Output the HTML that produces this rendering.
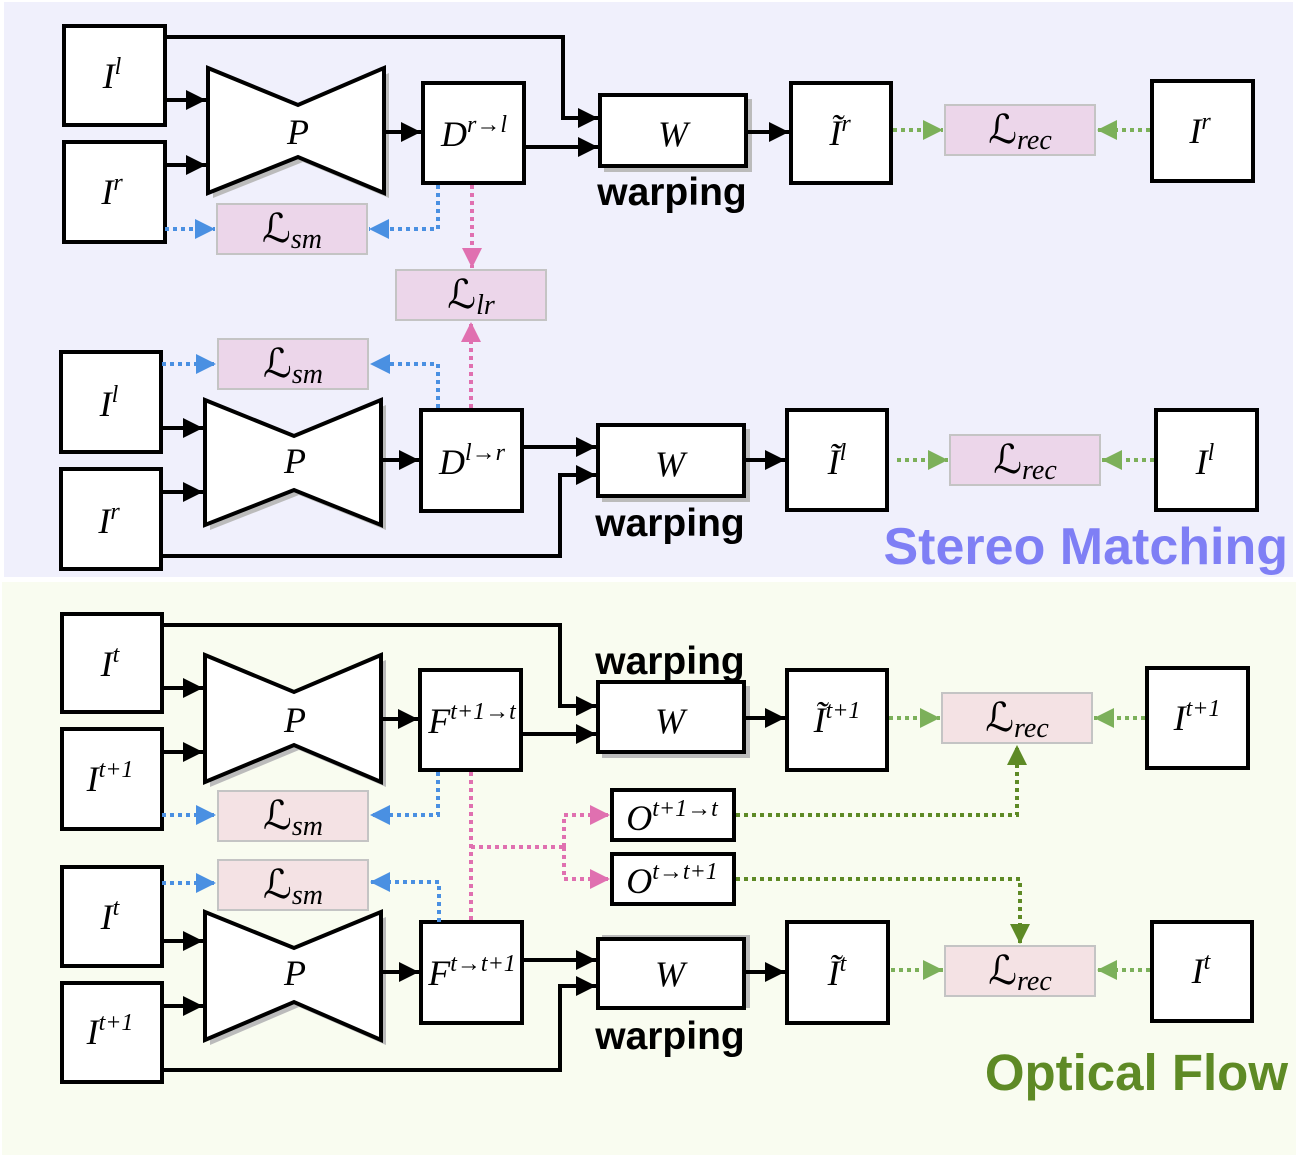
<!DOCTYPE html>
<html><head><meta charset="utf-8"><style>body{margin:0;background:#fff}svg{display:block}</style></head><body>
<svg width="1301" height="1157" viewBox="0 0 1301 1157" xmlns="http://www.w3.org/2000/svg">
<defs>
<marker id="a" viewBox="0 0 10 10" refX="10" refY="5" markerWidth="5" markerHeight="5" orient="auto" markerUnits="strokeWidth"><path d="M0,0L10,5L0,10z" fill="#000"/></marker>
<marker id="b" viewBox="0 0 10 10" refX="10" refY="5" markerWidth="5" markerHeight="5" orient="auto" markerUnits="strokeWidth"><path d="M0,0L10,5L0,10z" fill="#4a90e2"/></marker>
<marker id="p" viewBox="0 0 10 10" refX="10" refY="5" markerWidth="5" markerHeight="5" orient="auto" markerUnits="strokeWidth"><path d="M0,0L10,5L0,10z" fill="#e070b0"/></marker>
<marker id="g" viewBox="0 0 10 10" refX="10" refY="5" markerWidth="5" markerHeight="5" orient="auto" markerUnits="strokeWidth"><path d="M0,0L10,5L0,10z" fill="#7cb05a"/></marker>
<marker id="G" viewBox="0 0 10 10" refX="10" refY="5" markerWidth="5" markerHeight="5" orient="auto" markerUnits="strokeWidth"><path d="M0,0L10,5L0,10z" fill="#5e8a25"/></marker>
</defs>
<rect x="4" y="2" width="1289" height="575" fill="#f0f0fc"/>
<rect x="2" y="582" width="1294" height="573" fill="#f9fcf0"/>
<g fill="none" stroke="#000" stroke-width="4">
<rect x="64" y="26" width="101" height="99" fill="#fff"/>
<rect x="64" y="142" width="101" height="100" fill="#fff"/>
<rect x="423" y="83" width="101" height="100" fill="#fff"/>
<rect x="791" y="83" width="100" height="100" fill="#fff"/>
<rect x="1152" y="81" width="101" height="100" fill="#fff"/>
<rect x="61" y="352" width="100" height="100" fill="#fff"/>
<rect x="61" y="469" width="100" height="100" fill="#fff"/>
<rect x="421" y="410" width="101" height="101" fill="#fff"/>
<rect x="787" y="410" width="100" height="100" fill="#fff"/>
<rect x="1156" y="410" width="101" height="100" fill="#fff"/>
<rect x="62" y="614" width="100" height="98" fill="#fff"/>
<rect x="62" y="729" width="100" height="100" fill="#fff"/>
<rect x="420" y="670" width="101" height="100" fill="#fff"/>
<rect x="787" y="670" width="100" height="100" fill="#fff"/>
<rect x="1147" y="668" width="101" height="100" fill="#fff"/>
<rect x="612" y="790" width="122" height="50" fill="#fff"/>
<rect x="612" y="854" width="122" height="50" fill="#fff"/>
<rect x="62" y="867" width="100" height="99" fill="#fff"/>
<rect x="62" y="983" width="100" height="99" fill="#fff"/>
<rect x="421" y="922" width="101" height="101" fill="#fff"/>
<rect x="787" y="922" width="101" height="101" fill="#fff"/>
<rect x="1152" y="922" width="100" height="99" fill="#fff"/>
</g>
<g>
<rect x="604" y="99" width="148" height="73" fill="#bbb"/><rect x="600" y="95" width="146" height="71" fill="#fff" stroke="#000" stroke-width="4"/>
<rect x="602" y="429" width="148" height="73" fill="#bbb"/><rect x="598" y="425" width="146" height="71" fill="#fff" stroke="#000" stroke-width="4"/>
<rect x="602" y="686" width="148" height="72" fill="#bbb"/><rect x="598" y="682" width="146" height="70" fill="#fff" stroke="#000" stroke-width="4"/>
<rect x="602" y="935" width="148" height="73" fill="#bbb"/><rect x="598" y="939" width="146" height="69" fill="#fff" stroke="#000" stroke-width="4"/>
</g>
<g stroke-linejoin="miter">
<polygon points="213,73 303,110 389,73 389,198 303,162 213,198" fill="#bbb"/>
<polygon points="208,68 298,105 384,68 384,193 298,157 208,193" fill="#fff" stroke="#000" stroke-width="4"/>
<polygon points="210,405 299,441 386,405 386,530 299,495 210,530" fill="#bbb"/>
<polygon points="205,400 294,436 381,400 381,525 294,490 205,525" fill="#fff" stroke="#000" stroke-width="4"/>
<polygon points="210,660 299,697 386,660 386,787 299,750 210,787" fill="#bbb"/>
<polygon points="205,655 294,692 381,655 381,782 294,745 205,782" fill="#fff" stroke="#000" stroke-width="4"/>
<polygon points="210,917 299,953 386,917 386,1045 299,1007 210,1045" fill="#bbb"/>
<polygon points="205,912 294,948 381,912 381,1040 294,1002 205,1040" fill="#fff" stroke="#000" stroke-width="4"/>
</g>
<g stroke="#c4c4c4" stroke-width="2">
<rect x="945" y="105" width="150" height="50" fill="#ecd6ea"/>
<rect x="217" y="204" width="150" height="50" fill="#ecd6ea"/>
<rect x="396" y="270" width="150" height="50" fill="#ecd6ea"/>
<rect x="218" y="339" width="150" height="50" fill="#ecd6ea"/>
<rect x="950" y="435" width="150" height="50" fill="#ecd6ea"/>
<rect x="942" y="693" width="150" height="50" fill="#f4e2e4"/>
<rect x="218" y="791" width="150" height="50" fill="#f4e2e4"/>
<rect x="218" y="860" width="150" height="50" fill="#f4e2e4"/>
<rect x="945" y="946" width="150" height="50" fill="#f4e2e4"/>
</g>
<g fill="none" stroke="#000" stroke-width="4" marker-end="url(#a)">
<path d="M165,100H206"/><path d="M165,165H206"/><path d="M384,132H421"/>
<path d="M165,37H563V118H598"/><path d="M524,147H598"/><path d="M746,132H789"/>
<path d="M161,428H203"/><path d="M161,492H203"/><path d="M381,460H419"/>
<path d="M522,447H596"/><path d="M161,556H560V475H596"/><path d="M744,460H785"/>
<path d="M162,688H203"/><path d="M162,752H203"/><path d="M381,719H418"/>
<path d="M162,625H560V706H596"/><path d="M521,734H596"/><path d="M744,718H785"/>
<path d="M162,941H203"/><path d="M162,1006H203"/><path d="M381,972H419"/>
<path d="M522,960H596"/><path d="M162,1070H560V986H596"/><path d="M744,972H785"/>
</g>
<g fill="none" stroke-width="4" stroke-dasharray="4,4">
<g stroke="#4a90e2" marker-end="url(#b)">
<path d="M165,229H215"/><path d="M438,185V229H369"/>
<path d="M162,364H216"/><path d="M438,408V364H370"/>
<path d="M162,815H216"/><path d="M438,772V815H370"/>
<path d="M162,883H216"/><path d="M439,922V882H370"/>
</g>
<g stroke="#e070b0" marker-end="url(#p)">
<path d="M472,185V268"/><path d="M471,408V322"/>
<path d="M564,847V815H610"/><path d="M564,847V879H610"/>
</g>
<path d="M471,772V920M471,847H564" stroke="#e070b0"/>
<g stroke="#7cb05a" marker-end="url(#g)">
<path d="M893,130H943"/><path d="M1150,130H1097"/>
<path d="M897,460H948"/><path d="M1154,460H1102"/>
<path d="M889,718H940"/><path d="M1145,718H1094"/>
<path d="M891,970H943"/><path d="M1150,970H1097"/>
</g>
<g stroke="#5e8a25" marker-end="url(#G)">
<path d="M736,815H1017V745"/><path d="M736,879H1020V944"/>
</g>
</g>
<g font-family="'Liberation Serif',serif" font-style="italic" font-size="36" text-anchor="middle" fill="#000">
<text x="112" y="88">I<tspan dy="-14" font-size="24">l</tspan></text>
<text x="112" y="204">I<tspan dy="-14" font-size="24">r</tspan></text>
<text x="298" y="144">P</text>
<text x="474" y="146">D<tspan dy="-14" font-size="24">r→l</tspan></text>
<text x="673" y="146">W</text>
<text x="840" y="145">Ĩ<tspan dy="-14" font-size="24">r</tspan></text>
<text x="1200" y="143">I<tspan dy="-14" font-size="24">r</tspan></text>
<text x="109" y="416">I<tspan dy="-14" font-size="24">l</tspan></text>
<text x="109" y="533">I<tspan dy="-14" font-size="24">r</tspan></text>
<text x="295" y="473">P</text>
<text x="472" y="474">D<tspan dy="-14" font-size="24">l→r</tspan></text>
<text x="670" y="476">W</text>
<text x="837" y="474">Ĩ<tspan dy="-14" font-size="24">l</tspan></text>
<text x="1205" y="474">I<tspan dy="-14" font-size="24">l</tspan></text>
<text x="110" y="676">I<tspan dy="-14" font-size="24">t</tspan></text>
<text x="110" y="791">I<tspan dy="-14" font-size="24">t+1</tspan></text>
<text x="295" y="732">P</text>
<text x="472" y="733">F<tspan dy="-14" font-size="24">t+1→t</tspan></text>
<text x="670" y="733">W</text>
<text x="837" y="732">Ĩ<tspan dy="-14" font-size="24">t+1</tspan></text>
<text x="1197" y="730">I<tspan dy="-14" font-size="24">t+1</tspan></text>
<text x="672" y="830">O<tspan dy="-14" font-size="24">t+1→t</tspan></text>
<text x="672" y="893">O<tspan dy="-14" font-size="24">t→t+1</tspan></text>
<text x="110" y="929">I<tspan dy="-14" font-size="24">t</tspan></text>
<text x="110" y="1044">I<tspan dy="-14" font-size="24">t+1</tspan></text>
<text x="295" y="985">P</text>
<text x="472" y="985">F<tspan dy="-14" font-size="24">t→t+1</tspan></text>
<text x="670" y="986">W</text>
<text x="837" y="985">Ĩ<tspan dy="-14" font-size="24">t</tspan></text>
<text x="1201" y="983">I<tspan dy="-14" font-size="24">t</tspan></text>
</g>
<g font-family="'Liberation Serif','DejaVu Serif',serif" font-size="40" text-anchor="middle" fill="#000">
<text x="1020" y="143">ℒ<tspan font-style="italic" font-size="28" dy="6">rec</tspan></text>
<text x="292" y="242">ℒ<tspan font-style="italic" font-size="28" dy="6">sm</tspan></text>
<text x="471" y="308">ℒ<tspan font-style="italic" font-size="28" dy="6">lr</tspan></text>
<text x="293" y="377">ℒ<tspan font-style="italic" font-size="28" dy="6">sm</tspan></text>
<text x="1025" y="473">ℒ<tspan font-style="italic" font-size="28" dy="6">rec</tspan></text>
<text x="1017" y="731">ℒ<tspan font-style="italic" font-size="28" dy="6">rec</tspan></text>
<text x="293" y="829">ℒ<tspan font-style="italic" font-size="28" dy="6">sm</tspan></text>
<text x="293" y="898">ℒ<tspan font-style="italic" font-size="28" dy="6">sm</tspan></text>
<text x="1020" y="984">ℒ<tspan font-style="italic" font-size="28" dy="6">rec</tspan></text>
</g>
<g font-family="'Liberation Sans',sans-serif" font-weight="bold" font-size="39" text-anchor="middle" fill="#000">
<text x="672" y="205">warping</text>
<text x="670" y="536">warping</text>
<text x="670" y="674">warping</text>
<text x="670" y="1049">warping</text>
</g>
<text x="1288" y="564" text-anchor="end" font-family="'Liberation Sans',sans-serif" font-weight="bold" font-size="52" fill="#7f7ff5">Stereo Matching</text>
<text x="1288" y="1090" text-anchor="end" font-family="'Liberation Sans',sans-serif" font-weight="bold" font-size="51" fill="#5e8a25">Optical Flow</text>
</svg>
</body></html>
